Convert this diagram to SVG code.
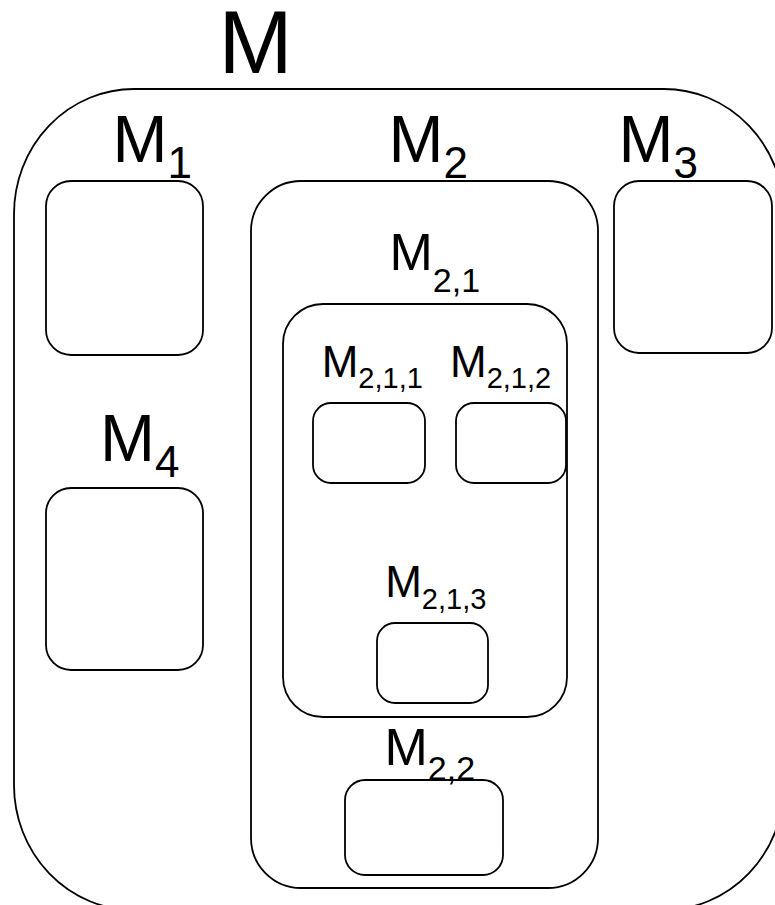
<svg xmlns="http://www.w3.org/2000/svg" width="775" height="905" viewBox="0 0 775 905">
<style>
.box{fill:#fff;stroke:#000;stroke-width:1.8}
text{font-family:"Liberation Sans",Arial,sans-serif;fill:#000}
</style>
<rect width="775" height="905" fill="#fff"/>
<g id="M">
<rect class="box" x="14" y="89" width="770" height="821" rx="120" ry="125"/>
<text x="218.4" y="72.7" font-size="89">M</text>
</g>
<g id="M1">
<rect class="box" x="46" y="181" width="157" height="174" rx="25" ry="25"/>
<text x="112.6" y="162" font-size="66">M<tspan font-size="44" dy="16">1</tspan></text>
</g>
<g id="M2">
<rect class="box" x="251" y="181" width="347" height="707" rx="50" ry="50"/>
<text x="388.5" y="162" font-size="66">M<tspan font-size="44" dy="16">2</tspan></text>
</g>
<g id="M3">
<rect class="box" x="614" y="181" width="158" height="172" rx="25" ry="25"/>
<text x="618.4" y="162" font-size="66">M<tspan font-size="44" dy="16">3</tspan></text>
</g>
<g id="M4">
<rect class="box" x="46" y="488" width="157" height="182" rx="25" ry="25"/>
<text x="100" y="461" font-size="66">M<tspan font-size="44" dy="16">4</tspan></text>
</g>
<g id="M2_1">
<rect class="box" x="283" y="304" width="284" height="413" rx="40" ry="40"/>
<text x="389.5" y="270" font-size="52">M<tspan font-size="34" dy="22">2,1</tspan></text>
</g>
<g id="M2_1_1">
<rect class="box" x="313" y="403" width="112" height="80" rx="18" ry="18"/>
<text x="321.7" y="377" font-size="44">M<tspan font-size="29" dy="10.5">2,1,1</tspan></text>
</g>
<g id="M2_1_2">
<rect class="box" x="456" y="403" width="110" height="80" rx="18" ry="18"/>
<text x="450" y="377" font-size="44">M<tspan font-size="29" dy="10.5">2,1,2</tspan></text>
</g>
<g id="M2_1_3">
<rect class="box" x="377" y="623" width="111" height="80" rx="18" ry="18"/>
<text x="385.2" y="597" font-size="44">M<tspan font-size="29" dy="12">2,1,3</tspan></text>
</g>
<g id="M2_2">
<rect class="box" x="345" y="780" width="158" height="95" rx="20" ry="20"/>
<text x="384.5" y="765" font-size="52">M<tspan font-size="34" dy="15">2,2</tspan></text>
</g>
<g id="connectors"></g>
</svg>
